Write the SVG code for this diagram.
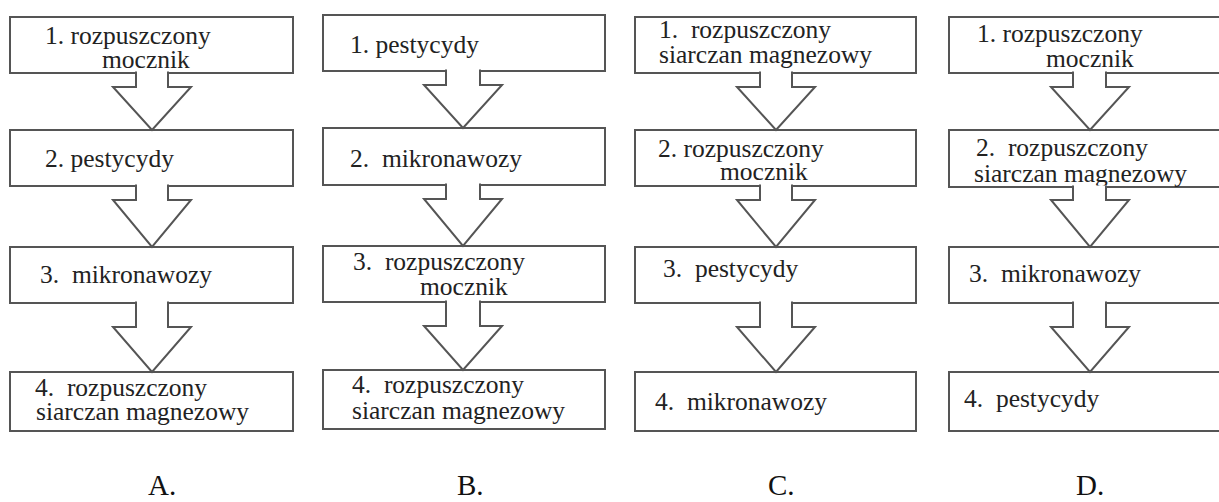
<svg xmlns="http://www.w3.org/2000/svg" width="1219" height="502" viewBox="0 0 1219 502">
<style>
.box{fill:#fff;stroke:#555;stroke-width:2}
.arr{fill:#fff;stroke:#555;stroke-width:2;stroke-linejoin:miter}
.txt text{white-space:pre}
</style>
<rect width="1219" height="502" fill="#fff"/>
<g class="txt" font-family="Liberation Serif, Times New Roman, serif" font-size="25.5" fill="#222" xml:space="preserve">
<!-- Column A -->
<g id="A1"><rect class="box" x="10" y="17" width="283" height="56"/><text x="45" y="44">1. rozpuszczony</text><text x="102" y="68">mocznik</text></g>
<g id="A2"><rect class="box" x="10" y="130" width="283" height="56"/><text x="45" y="167">2. pestycydy</text></g>
<g id="A3"><rect class="box" x="10" y="247" width="283" height="56"/><text x="40" y="283">3.  mikronawozy</text></g>
<g id="A4"><rect class="box" x="10" y="372" width="283" height="59"/><text x="35" y="396">4.  rozpuszczony</text><text x="36" y="420">siarczan magnezowy</text></g>
<!-- Column B -->
<g id="B1"><rect class="box" x="323" y="15" width="282" height="56"/><text x="350" y="53">1. pestycydy</text></g>
<g id="B2"><rect class="box" x="323" y="128" width="282" height="57"/><text x="350" y="167">2.  mikronawozy</text></g>
<g id="B3"><rect class="box" x="323" y="246" width="282" height="56"/><text x="353" y="270">3.  rozpuszczony</text><text x="420" y="295">mocznik</text></g>
<g id="B4"><rect class="box" x="323" y="370" width="282" height="59"/><text x="352" y="393">4.  rozpuszczony</text><text x="352" y="419">siarczan magnezowy</text></g>
<!-- Column C -->
<g id="C1"><rect class="box" x="635" y="17" width="281" height="56"/><text x="659" y="38">1.  rozpuszczony</text><text x="659" y="63">siarczan magnezowy</text></g>
<g id="C2"><rect class="box" x="635" y="130" width="281" height="56"/><text x="658" y="157">2. rozpuszczony</text><text x="720" y="180">mocznik</text></g>
<g id="C3"><rect class="box" x="635" y="247" width="281" height="56"/><text x="663" y="277">3.  pestycydy</text></g>
<g id="C4"><rect class="box" x="635" y="372" width="281" height="59"/><text x="655" y="410">4.  mikronawozy</text></g>
<!-- Column D -->
<g id="D1"><rect class="box" x="949" y="17" width="284" height="56"/><text x="977" y="42">1. rozpuszczony</text><text x="1046" y="67">mocznik</text></g>
<g id="D2"><rect class="box" x="949" y="130" width="284" height="57"/><text x="976" y="156">2.  rozpuszczony</text><text x="974" y="182">siarczan magnezowy</text></g>
<g id="D3"><rect class="box" x="949" y="247" width="284" height="56"/><text x="969" y="282">3.  mikronawozy</text></g>
<g id="D4"><rect class="box" x="949" y="372" width="284" height="59"/><text x="964" y="407">4.  pestycydy</text></g>
</g>
<!-- Connectors: block arrows -->
<g id="connectors">
<path class="arr" d="M136,71.5 V87 H113 L152,130 L191,87 H168 V71.5"/>
<path class="arr" d="M136,184.5 V200 H113 L152,247 L191,200 H168 V184.5"/>
<path class="arr" d="M136,301.5 V327 H113 L152,372 L191,327 H168 V301.5"/>
<path class="arr" d="M446,69.5 V85 H424 L463,128 L502,85 H480 V69.5"/>
<path class="arr" d="M446,183.5 V199 H424 L463,246 L502,199 H480 V183.5"/>
<path class="arr" d="M446,300.5 V326 H424 L463,370 L502,326 H480 V300.5"/>
<path class="arr" d="M760,71.5 V87 H737 L776,130 L815,87 H792 V71.5"/>
<path class="arr" d="M760,184.5 V200 H737 L776,247 L815,200 H792 V184.5"/>
<path class="arr" d="M760,301.5 V327 H737 L776,372 L815,327 H792 V301.5"/>
<path class="arr" d="M1073,71.5 V87 H1051 L1090,130 L1129,87 H1106 V71.5"/>
<path class="arr" d="M1073,185.5 V200 H1051 L1090,247 L1129,200 H1106 V185.5"/>
<path class="arr" d="M1073,301.5 V327 H1051 L1090,372 L1129,327 H1106 V301.5"/>
</g>
<!-- Option labels -->
<g font-family="Liberation Serif, Times New Roman, serif" font-size="29" fill="#111">
<text id="labA" x="148" y="495">A.</text>
<text id="labB" x="457" y="495">B.</text>
<text id="labC" x="768" y="495">C.</text>
<text id="labD" x="1076" y="495">D.</text>
</g>
</svg>
